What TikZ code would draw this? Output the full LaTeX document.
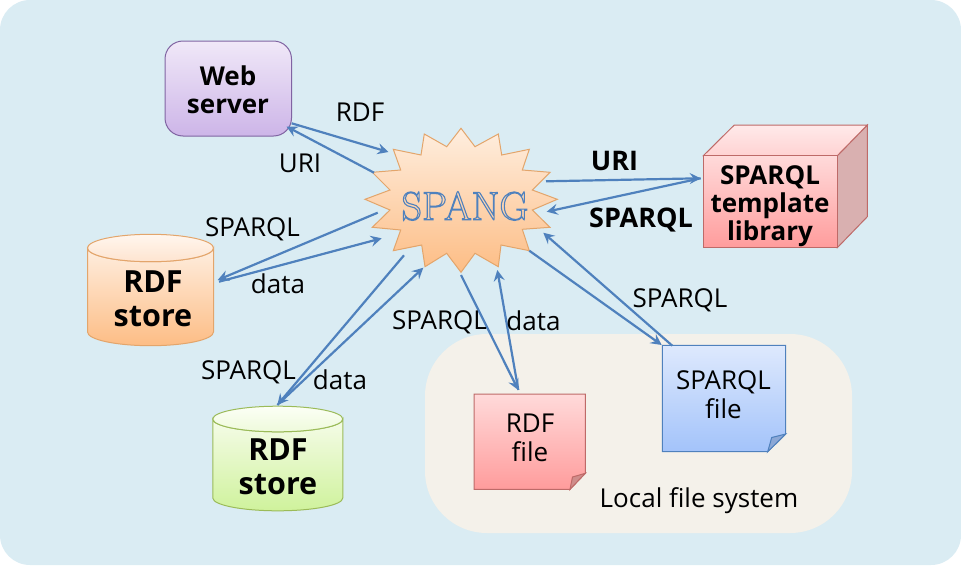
\documentclass[tikz,border=0pt]{standalone}
\usepackage{fontspec}
\setmainfont{Open Sans}
\newfontfamily\spangfont{Latin Modern Roman}
\usetikzlibrary{arrows.meta}
\definecolor{bgblue}{HTML}{DAECF3}
\definecolor{localbg}{HTML}{F4F1EA}
\definecolor{conn}{HTML}{4F81BD}
\definecolor{purtop}{HTML}{F0E8F8}\definecolor{purbot}{HTML}{CDB5E8}\definecolor{purline}{HTML}{8064A2}
\definecolor{ortop}{HTML}{FEEEDF}\definecolor{orbot}{HTML}{FDBD85}\definecolor{orline}{HTML}{E3A56B}
\definecolor{ortoplite}{HTML}{FFF6EE}\definecolor{orbotlite}{HTML}{FEE4D0}
\definecolor{grtop}{HTML}{F5FCE8}\definecolor{grbot}{HTML}{CFF29C}\definecolor{grline}{HTML}{9BBB59}
\definecolor{grtoplite}{HTML}{FCFFF6}\definecolor{grbotlite}{HTML}{EEFADB}
\definecolor{retop}{HTML}{FFDADA}\definecolor{rebot}{HTML}{FF9C9C}\definecolor{reline}{HTML}{BE6A68}
\definecolor{retoplite}{HTML}{FFEAEA}\definecolor{rebotlite}{HTML}{FFD2D2}\definecolor{reside}{HTML}{D9B0B0}
\definecolor{refold}{HTML}{CF8D8B}
\definecolor{bltop}{HTML}{DEE9FD}\definecolor{blbot}{HTML}{A3C3FA}\definecolor{blfold}{HTML}{8CA8D6}
\tikzset{
  lab/.style={inner sep=0pt,text=black,align=center,font=\fontsize{26}{29}\selectfont},
  boldsm/.style={inner sep=0pt,text=black,align=center,font=\fontsize{26}{28}\selectfont\bfseries},
  boldlg/.style={inner sep=0pt,text=black,align=center,font=\fontsize{30.5}{34}\selectfont\bfseries},
  boldlbl/.style={inner sep=0pt,text=black,font=\fontsize{27}{27}\selectfont\bfseries},
  conn/.style={draw=conn,line width=2.2pt,-{Stealth[length=11pt,width=11pt,inset=4pt]}},
  edge/.style={line width=1pt}
}
\begin{document}
\begin{tikzpicture}[x=1pt,y=-1pt]
\useasboundingbox (0,0) rectangle (961,565);
\fill[white] (0,0) rectangle (961,565);
\fill[bgblue,rounded corners=30pt] (0,0) rectangle (961,565);
\fill[localbg,rounded corners=62pt] (425,334) rectangle (852,533);

% Web server
\shade[top color=purtop,bottom color=purbot,draw=purline,edge,rounded corners=18pt]
  (165,41) rectangle (291.5,136);
\node[boldsm] (web) at (228,90) {Web\\server};

% RDF store 1
\shade[top color=ortop,bottom color=orbot,draw=orline,edge]
  (87.5,248) arc[start angle=180,end angle=0,x radius=63,y radius=13.7] -- (213.5,332)
  arc[start angle=0,end angle=180,x radius=63,y radius=13.7] -- cycle;
\shade[top color=ortoplite,bottom color=orbotlite,draw=orline,edge]
  (150.5,248) ellipse[x radius=63,y radius=13.7];
\node[boldlg] (store1) at (153,299) {RDF\\store};

% RDF store 2
\shade[top color=grtop,bottom color=grbot,draw=grline,edge]
  (212.8,419) arc[start angle=180,end angle=0,x radius=65,y radius=12.8] -- (342.8,498)
  arc[start angle=0,end angle=180,x radius=65,y radius=12.8] -- cycle;
\shade[top color=grtoplite,bottom color=grbotlite,draw=grline,edge]
  (277.8,419) ellipse[x radius=65,y radius=12.8];
\node[boldlg] (store2) at (278,466.5) {RDF\\store};

% Template library cube
\fill[reside,draw=reline,edge] (837.3,155.7) -- (867.3,125) -- (867.3,216.7) -- (837.3,247.7) -- cycle;
\shade[top color=retoplite,bottom color=rebotlite,draw=reline,edge] (703.3,155.7) -- (734.3,125) -- (867.3,125) -- (837.3,155.7) -- cycle;
\shade[top color=retop,bottom color=rebot,draw=reline,edge] (703.3,155.7) rectangle (837.3,247.7);
\node[boldsm] (lib) at (770,206.5) {SPARQL\\template\\library};

% RDF file
\shade[top color=retop,bottom color=rebot,draw=reline,edge]
  (474,394) -- (585.3,394) -- (585.3,473.3) -- (570,489.3) -- (474,489.3) -- cycle;
\fill[refold,draw=reline,edge] (585.3,473.3) -- (570,489.3) -- (572.5,477) -- cycle;
\node[lab] (rdffile) at (530,438) {RDF\\file};

% SPARQL file
\shade[top color=bltop,bottom color=blbot,draw=conn,edge]
  (662.3,345.3) -- (785.7,345.3) -- (785.7,434) -- (767.7,451.7) -- (662.3,451.7) -- cycle;
\fill[blfold,draw=conn,edge] (785.7,434) -- (767.7,451.7) -- (771.7,437.5) -- cycle;
\node[lab] (sparqlfile) at (723.5,394.5) {SPARQL\\file};

\node[lab] (localfs) at (699,501) {Local file system};

% SPANG star
\shade[top color=ortop,bottom color=orbot,draw=orline,edge]
  (461,128.3) -- (475,146.7) -- (498.3,134) -- (501.7,155) -- (529.3,149.3) -- (522.3,170) -- (550,172.3) -- (532.3,190)
  -- (557.3,199.3) -- (532.3,210) -- (550,227.3) -- (522.3,229.3) -- (529.3,250.7) -- (501,245) -- (498.3,266.7)
  -- (475,253.3) -- (461,272.3) -- (446.7,253.3) -- (425,266.7) -- (421.7,245) -- (393.3,250.7) -- (400.7,230)
  -- (372.3,227.3) -- (390,210) -- (365,199.3) -- (390,190) -- (372.3,172.3) -- (400.7,170) -- (393.3,149.3)
  -- (421,155) -- (424.3,134) -- (446.7,146.7) -- cycle;
\node[inner sep=0pt,text=conn] (spang) at (465,206)
  {\special{pdf:code q 1.1 w 1 Tr}\spangfont\fontsize{40}{40}\selectfont SPANG\special{pdf:code 0 Tr Q}};

% Free ends of connectors
\coordinate (w1) at (291.7,123.3);
\coordinate (s1) at (388.5,152);
\coordinate (s2) at (374,172.7);
\coordinate (w2) at (286.5,126.5);
\coordinate (s3) at (546,181.3);
\coordinate (l1) at (700.7,178.3);
\coordinate (l2) at (700.7,178.3);
\coordinate (s4) at (546.7,211.7);
\coordinate (s5) at (377.7,212.7);
\coordinate (a1) at (217.7,280);
\coordinate (a2) at (219,281.7);
\coordinate (s6) at (381.7,238.3);
\coordinate (s7) at (404,255.3);
\coordinate (b1) at (277.3,405);
\coordinate (b2) at (277.3,405);
\coordinate (s8) at (423.3,267.7);
\coordinate (s9) at (461,275);
\coordinate (c1) at (518.3,390);
\coordinate (c2) at (518.3,390);
\coordinate (s10) at (497.3,270);
\coordinate (s11) at (529.3,250.7);
\coordinate (d1) at (661.7,345);
\coordinate (d2) at (672.3,345.7);
\coordinate (s12) at (543.3,232.7);

\draw[conn] (w1) -- (s1);
\draw[conn] (s2) -- (w2);
\draw[conn] (s3) -- (l1);
\draw[conn] (l2) -- (s4);
\draw[conn] (s5) -- (a1);
\draw[conn] (a2) -- (s6);
\draw[conn] (s7) -- (b1);
\draw[conn] (b2) -- (s8);
\draw[conn] (s9) -- (c1);
\draw[conn] (c2) -- (s10);
\draw[conn] (s11) -- (d1);
\draw[conn] (d2) -- (s12);

% Labels
\node[lab] (t1) at (360,112) {RDF};
\node[lab] (t2) at (300,163) {URI};
\node[lab] (t3) at (252.5,229.5) {SPARQL};
\node[lab] (t4) at (278,284) {data};
\node[lab] (t5) at (439.5,322.5) {SPARQL};
\node[lab] (t6) at (533.5,321) {data};
\node[lab] (t7) at (248.5,372.5) {SPARQL};
\node[lab] (t8) at (340,380) {data};
\node[lab] (t9) at (680,300.5) {SPARQL};
\node[boldlbl] (t10) at (614.5,161) {URI};
\node[boldlbl] (t11) at (641,220.5) {SPARQL};
\end{tikzpicture}
\end{document}
